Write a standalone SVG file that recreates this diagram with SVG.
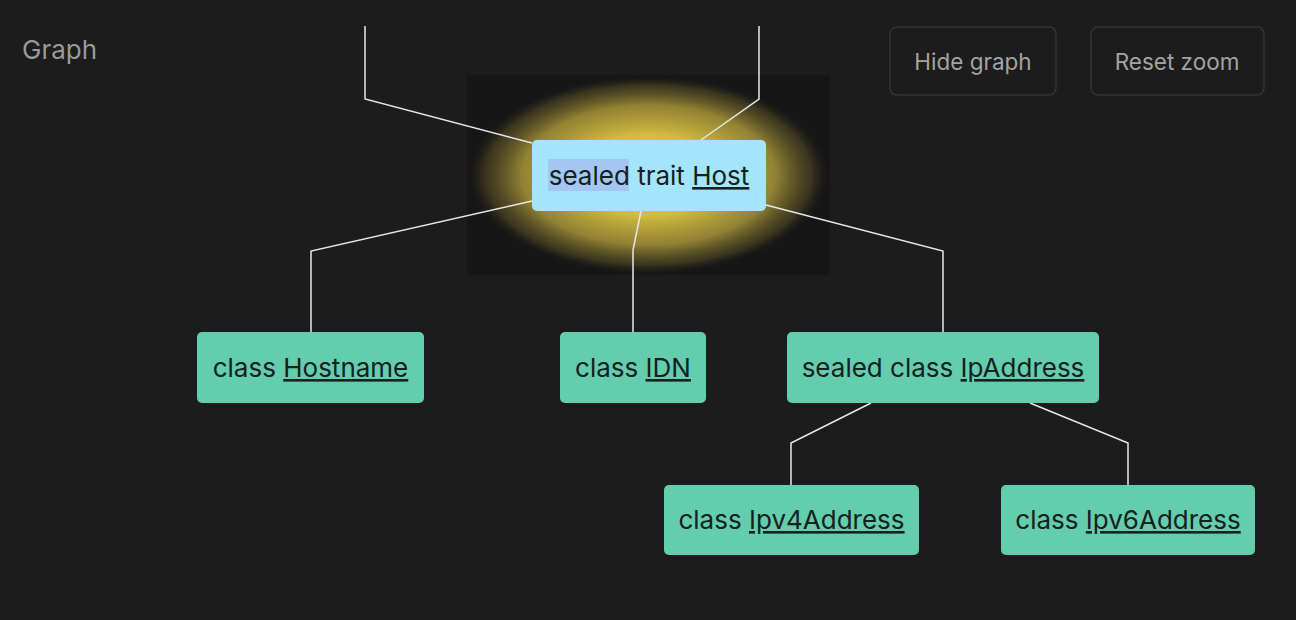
<svg xmlns="http://www.w3.org/2000/svg" width="1296" height="620" viewBox="0 0 1296 620">
  <defs>
    <radialGradient id="glow" cx="50%" cy="50%" r="50%">
      <stop offset="0" stop-color="#ecd44a" stop-opacity="1"/>
      <stop offset="0.4" stop-color="#dcc543" stop-opacity="0.95"/>
      <stop offset="0.7" stop-color="#b4a03b" stop-opacity="0.78"/>
      <stop offset="0.9" stop-color="#5e5427" stop-opacity="0.5"/>
      <stop offset="1" stop-color="#161616" stop-opacity="0"/>
    </radialGradient>
    <style>
      .bg { fill: #1c1c1c; }
      .edge { fill: none; stroke: #e8e8e8; stroke-width: 1.5; }
      .node { fill: #64cdad; }
      .host { fill: #a4e5fb; }
      .lbl { font-family: Inter, "Noto Sans", "Liberation Sans", sans-serif; font-size: 26px; fill: #14211e; text-anchor: middle; }
      .u { text-decoration: underline; }
      .btn { fill: none; stroke: #333333; stroke-width: 1.5; }
      .btntxt { font-family: Inter, "Noto Sans", "Liberation Sans", sans-serif; font-size: 22.5px; fill: #a3a3a3; text-anchor: middle; }
      .title { font-family: Inter, "Noto Sans", "Liberation Sans", sans-serif; font-size: 26px; fill: #9a9a9a; }
    </style>
  </defs>
  <rect class="bg" x="0" y="0" width="1296" height="620"/>
  <text class="title" x="22" y="59">Graph</text>

  <g id="btn-hide">
    <rect class="btn" x="890" y="27" width="166" height="68" rx="7"/>
    <text class="btntxt" x="973" y="70">Hide graph</text>
  </g>
  <g id="btn-reset">
    <rect class="btn" x="1091" y="27" width="173" height="68" rx="7"/>
    <text class="btntxt" x="1177" y="70">Reset zoom</text>
  </g>

  <g id="highlight">
    <rect x="467" y="75" width="363" height="200" fill="#161616"/>
    <rect x="467" y="75" width="363" height="200" fill="url(#glow)"/>
  </g>

  <g id="connectors">
    <polyline class="edge" points="365,26 365,99 532,143"/>
    <polyline class="edge" points="759,26 759,99 701,140"/>
    <polyline class="edge" points="532,201 311,251 311,332"/>
    <polyline class="edge" points="641,211 633,250 633,332"/>
    <polyline class="edge" points="766,205 943,251 943,332"/>
    <polyline class="edge" points="871,403 791,443 791,485"/>
    <polyline class="edge" points="1030,403 1128,443 1128,485"/>
  </g>

  <g id="node-host">
    <rect class="host" x="532" y="140" width="234" height="71" rx="5"/>
    <rect x="548" y="159" width="81" height="32" fill="#a3c7f2"/>
    <text class="lbl" x="649" y="185">sealed trait <tspan class="u">Host</tspan></text>
  </g>
  <g id="node-hostname">
    <rect class="node" x="197" y="332" width="227" height="71" rx="5"/>
    <text class="lbl" x="310.5" y="377">class <tspan class="u">Hostname</tspan></text>
  </g>
  <g id="node-idn">
    <rect class="node" x="560" y="332" width="146" height="71" rx="5"/>
    <text class="lbl" x="633" y="377">class <tspan class="u">IDN</tspan></text>
  </g>
  <g id="node-ipaddress">
    <rect class="node" x="787" y="332" width="312" height="71" rx="5"/>
    <text class="lbl" x="943" y="377">sealed class <tspan class="u">IpAddress</tspan></text>
  </g>
  <g id="node-ipv4">
    <rect class="node" x="664" y="485" width="255" height="70" rx="5"/>
    <text class="lbl" x="791.5" y="529">class <tspan class="u">Ipv4Address</tspan></text>
  </g>
  <g id="node-ipv6">
    <rect class="node" x="1001" y="485" width="254" height="70" rx="5"/>
    <text class="lbl" x="1128" y="529">class <tspan class="u">Ipv6Address</tspan></text>
  </g>
</svg>
